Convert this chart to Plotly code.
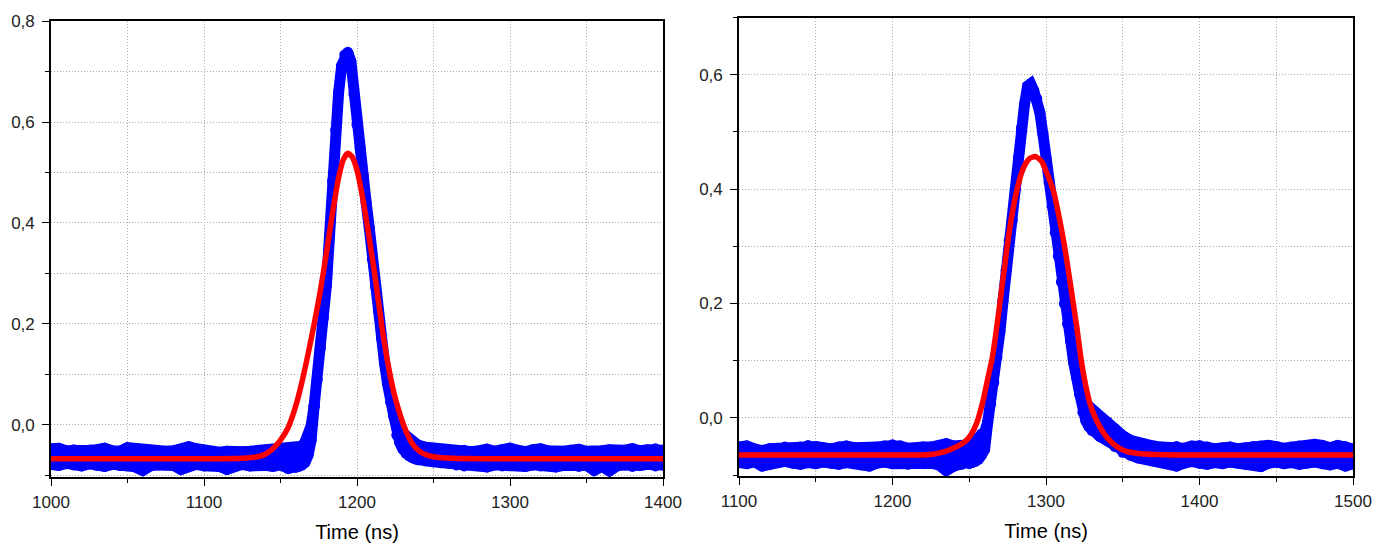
import plotly.graph_objects as go

# ---------------- left panel: measured pulse (blue band) ----------------
# sample times (ns), upper and lower marker-centre values of the scatter band;
# where upper == lower the trace is a single thin strand (the steep pulse)
t_L = [1000, 1005, 1010, 1015, 1020, 1025, 1030, 1035, 1040, 1045, 1050, 1055,
       1060, 1065, 1070, 1075, 1080, 1085, 1090, 1095, 1100, 1105, 1110, 1115,
       1120, 1125, 1130, 1135, 1140, 1145, 1150, 1155, 1160,
       1162, 1164, 1166, 1168, 1170, 1172, 1174, 1176, 1178, 1180, 1182, 1184,
       1186, 1188, 1190, 1192, 1194, 1196, 1198, 1200, 1202, 1204, 1206, 1208,
       1210, 1212, 1214, 1216, 1218, 1220, 1222, 1224, 1226, 1228, 1230, 1232,
       1234, 1236, 1238, 1240,
       1245, 1250, 1255, 1260, 1265, 1270, 1275, 1280, 1285, 1290, 1295, 1300,
       1305, 1310, 1315, 1320, 1325, 1330, 1335, 1340, 1345, 1350, 1355, 1360,
       1365, 1370, 1375, 1380, 1385, 1390, 1395, 1400]
hi_L = [-0.047, -0.046, -0.051, -0.049, -0.052, -0.050, -0.049, -0.046, -0.051, -0.052, -0.045, -0.047,
        -0.051, -0.053, -0.054, -0.052, -0.051, -0.049, -0.043, -0.047, -0.051, -0.054, -0.054, -0.052,
        -0.054, -0.053, -0.052, -0.051, -0.051, -0.049, -0.049, -0.047, -0.045,
        -0.046, -0.042, -0.034, -0.022, -0.002, 0.038, 0.090, 0.152, 0.212, 0.276, 0.373, 0.483,
        0.584, 0.659, 0.712, 0.733, 0.738, 0.720, 0.655, 0.595, 0.548, 0.495, 0.440, 0.391,
        0.328, 0.275, 0.226, 0.172, 0.122, 0.081, 0.045, 0.019, -0.005, -0.010, -0.016, -0.022,
        -0.028, -0.033, -0.037, -0.040,
        -0.044, -0.046, -0.048, -0.050, -0.052, -0.050, -0.053, -0.051, -0.048, -0.052, -0.049, -0.046,
        -0.050, -0.053, -0.049, -0.047, -0.051, -0.054, -0.052, -0.050, -0.048, -0.052, -0.054, -0.051,
        -0.049, -0.052, -0.050, -0.047, -0.051, -0.049, -0.047, -0.050]
lo_L = [-0.078, -0.080, -0.076, -0.079, -0.081, -0.077, -0.080, -0.082, -0.078, -0.080, -0.077, -0.083,
        -0.090, -0.081, -0.079, -0.077, -0.080, -0.088, -0.080, -0.078, -0.081, -0.079, -0.082, -0.088,
        -0.080, -0.078, -0.081, -0.079, -0.080, -0.082, -0.079, -0.086, -0.084,
        -0.082, -0.079, -0.074, -0.060, -0.030, 0.038, 0.090, 0.152, 0.212, 0.276, 0.373, 0.483,
        0.584, 0.659, 0.712, 0.733, 0.738, 0.720, 0.655, 0.595, 0.548, 0.495, 0.440, 0.391,
        0.328, 0.275, 0.226, 0.172, 0.122, 0.081, 0.045, 0.019, -0.020, -0.035, -0.048, -0.056,
        -0.061, -0.064, -0.067, -0.069,
        -0.071, -0.073, -0.075, -0.076, -0.079, -0.081, -0.078, -0.080, -0.083, -0.079, -0.081, -0.078,
        -0.080, -0.082, -0.079, -0.081, -0.078, -0.083, -0.080, -0.079, -0.082, -0.080, -0.090, -0.082,
        -0.091, -0.081, -0.079, -0.082, -0.080, -0.078, -0.081, -0.079]

# left panel: fitted curve (red)
fit_t_L = [1000, 1100, 1125, 1135, 1140, 1145, 1150, 1155, 1160, 1164, 1168, 1172,
           1176, 1180, 1184, 1188, 1191, 1194, 1197, 1200, 1204, 1208, 1212, 1216,
           1220, 1224, 1228, 1232, 1236, 1240, 1245, 1252, 1262, 1300, 1400]
fit_v_L = [-0.067, -0.067, -0.066, -0.063, -0.058, -0.047, -0.030, -0.005, 0.038, 0.085, 0.140, 0.200,
           0.265, 0.340, 0.420, 0.490, 0.525, 0.538, 0.530, 0.505, 0.445, 0.370, 0.290, 0.200,
           0.125, 0.065, 0.022, -0.012, -0.036, -0.050, -0.059, -0.064, -0.066, -0.067, -0.067]

# ---------------- right panel ----------------
t_R = [1100, 1105, 1110, 1115, 1120, 1125, 1130, 1135, 1140, 1145, 1150, 1155,
       1160, 1165, 1170, 1175, 1180, 1185, 1190, 1195, 1200, 1205, 1210, 1215,
       1220, 1225, 1230, 1235, 1240, 1245, 1250,
       1252, 1254, 1256, 1258, 1260, 1262, 1264, 1266, 1268, 1270, 1272, 1274,
       1276, 1278, 1280, 1282, 1284, 1286, 1288, 1290, 1292, 1294, 1296, 1298,
       1300, 1302, 1304, 1306, 1308, 1310, 1312, 1314, 1316, 1318, 1320, 1322,
       1324, 1326, 1328, 1330,
       1335, 1340, 1345, 1350, 1355, 1360, 1365, 1370, 1375, 1380, 1385, 1390,
       1395, 1400, 1405, 1410, 1415, 1420, 1425, 1430, 1435, 1440, 1445, 1450,
       1455, 1460, 1465, 1470, 1475, 1480, 1485, 1490, 1495, 1500]
hi_R = [-0.051, -0.049, -0.054, -0.057, -0.054, -0.053, -0.051, -0.053, -0.051, -0.048, -0.050, -0.052,
        -0.054, -0.051, -0.049, -0.052, -0.053, -0.053, -0.051, -0.049, -0.047, -0.049, -0.053, -0.054,
        -0.051, -0.051, -0.049, -0.045, -0.049, -0.050, -0.047,
        -0.044, -0.040, -0.034, -0.028, -0.025, -0.008, 0.025, 0.062, 0.106, 0.151, 0.204, 0.258,
        0.310, 0.345, 0.400, 0.455, 0.507, 0.548, 0.580, 0.584, 0.572, 0.558, 0.534, 0.496,
        0.454, 0.412, 0.370, 0.324, 0.283, 0.238, 0.200, 0.164, 0.134, 0.097, 0.070, 0.042,
        0.028, 0.025, 0.020, 0.015,
        0.003, -0.007, -0.019, -0.031, -0.039, -0.044, -0.048, -0.049, -0.051, -0.052, -0.050, -0.053,
        -0.049, -0.048, -0.051, -0.054, -0.052, -0.051, -0.054, -0.052, -0.050, -0.049, -0.048, -0.050,
        -0.053, -0.051, -0.049, -0.050, -0.046, -0.048, -0.052, -0.048, -0.050, -0.054]
lo_R = [-0.078, -0.080, -0.077, -0.084, -0.081, -0.078, -0.076, -0.079, -0.081, -0.078, -0.080, -0.077,
        -0.079, -0.081, -0.078, -0.080, -0.082, -0.084, -0.079, -0.077, -0.080, -0.079, -0.081, -0.078,
        -0.080, -0.079, -0.082, -0.092, -0.084, -0.081, -0.080,
        -0.078, -0.076, -0.072, -0.065, -0.055, -0.008, 0.025, 0.062, 0.106, 0.151, 0.204, 0.258,
        0.310, 0.345, 0.400, 0.455, 0.507, 0.548, 0.580, 0.584, 0.572, 0.558, 0.534, 0.496,
        0.454, 0.412, 0.370, 0.324, 0.283, 0.238, 0.200, 0.164, 0.134, 0.097, 0.070, 0.042,
        0.010, -0.005, -0.015, -0.022,
        -0.032, -0.040, -0.050, -0.060, -0.065, -0.070, -0.072, -0.075, -0.077, -0.078, -0.084, -0.079,
        -0.076, -0.079, -0.081, -0.078, -0.080, -0.077, -0.079, -0.081, -0.080, -0.085, -0.079, -0.077,
        -0.080, -0.078, -0.081, -0.079, -0.077, -0.080, -0.082, -0.079, -0.084, -0.080]

fit_t_R = [1100, 1200, 1225, 1235, 1242, 1247, 1251, 1255, 1259, 1262, 1265, 1268,
           1271, 1274, 1277, 1281, 1285, 1289, 1293, 1297, 1301, 1305, 1309, 1313,
           1317, 1320, 1323, 1326, 1329, 1333, 1337, 1341, 1346, 1352, 1360, 1372,
           1390, 1500]
fit_v_R = [-0.065, -0.065, -0.064, -0.058, -0.050, -0.042, -0.030, -0.008, 0.030, 0.068, 0.105, 0.160,
           0.222, 0.285, 0.342, 0.398, 0.435, 0.453, 0.457, 0.449, 0.425, 0.395, 0.345, 0.285,
           0.214, 0.160, 0.100, 0.055, 0.022, -0.005, -0.024, -0.038, -0.050, -0.058, -0.062, -0.064,
           -0.065, -0.065]

BLUE = "rgb(0,0,255)"
RED = "rgb(255,0,0)"
DOT = 11  # marker diameter in px

fig = go.Figure()


def split_runs(hi, lo):
    """Split sample indices into runs where the band is open (hi != lo) or a strand."""
    runs, i, n = [], 0, len(hi)
    while i < n:
        open_band = hi[i] != lo[i]
        j = i
        while j + 1 < n and (hi[j + 1] != lo[j + 1]) == open_band:
            j += 1
        runs.append((open_band, i, j))
        i = j + 1
    return runs


def add_panel(t, hi, lo, ft, fv, xa, ya):
    style = dict(mode="lines+markers", line=dict(color=BLUE, width=DOT),
                 marker=dict(color=BLUE, size=DOT, line=dict(width=0)),
                 xaxis=xa, yaxis=ya, showlegend=False, hoverinfo="skip")
    n = len(t)
    for open_band, i, j in split_runs(hi, lo):
        if open_band:
            a, b = max(i - 1, 0), min(j + 1, n - 1)  # close onto neighbouring strand points
            fig.add_trace(go.Scatter(x=t[a:b + 1], y=lo[a:b + 1], **style))
            fig.add_trace(go.Scatter(x=t[a:b + 1], y=hi[a:b + 1], fill="tonexty",
                                     fillcolor=BLUE, **style))
        else:
            fig.add_trace(go.Scatter(x=t[i:j + 1], y=hi[i:j + 1], **style))
    fig.add_trace(go.Scatter(x=ft, y=fv, mode="lines",
                             line=dict(color=RED, width=5.5, shape="spline", smoothing=0.6),
                             xaxis=xa, yaxis=ya, showlegend=False, hoverinfo="skip"))


add_panel(t_L, hi_L, lo_L, fit_t_L, fit_v_L, "x", "y")
add_panel(t_R, hi_R, lo_R, fit_t_R, fit_v_R, "x2", "y2")

W, H = 1389, 548
GRID = "#ababab"
GRID_DASH = "1px,2px"
FONT = "Liberation Sans, Arial, sans-serif"

common = dict(showline=True, linecolor="black", linewidth=1.6, mirror=True,
              ticks="outside", ticklen=7, tickwidth=1.4, tickcolor="black",
              showgrid=True, gridcolor=GRID, gridwidth=1, griddash=GRID_DASH,
              zeroline=False, automargin=False,
              tickfont=dict(size=17, color="#222222", family=FONT))


def xaxis(lo, hi, dom, anchor):
    return dict(common, range=[lo, hi], domain=dom, anchor=anchor, dtick=100, tick0=0,
                tickformat="d", ticklabelstandoff=2,
                minor=dict(dtick=50, ticks="outside", ticklen=4, tickcolor="black",
                           showgrid=True, gridcolor=GRID, griddash=GRID_DASH),
                title=dict(text="Time (ns)", font=dict(size=20, color="black", family=FONT),
                           standoff=14))


def yaxis(lo, hi, dom, anchor):
    return dict(common, range=[lo, hi], domain=dom, anchor=anchor, dtick=0.2, tick0=0,
                tickformat=".1f", ticklabelstandoff=4,
                minor=dict(dtick=0.1, ticks="outside", ticklen=4, tickcolor="black",
                           showgrid=True, gridcolor=GRID, griddash=GRID_DASH))


fig.update_layout(
    width=W, height=H,
    margin=dict(l=0, r=0, t=0, b=0, pad=0, autoexpand=False),
    paper_bgcolor="white", plot_bgcolor="white",
    separators=", ",
    font=dict(family=FONT, color="black"),
    xaxis=xaxis(1000, 1400, [51 / W, 663 / W], "y"),
    yaxis=yaxis(-0.103, 0.8, [1 - 477 / H, 1 - 21 / H], "x"),
    xaxis2=xaxis(1100, 1500, [739 / W, 1353 / W], "y2"),
    yaxis2=yaxis(-0.1015, 0.70, [1 - 476 / H, 1 - 17.5 / H], "x2"),
)

fig.write_html("out.html")
